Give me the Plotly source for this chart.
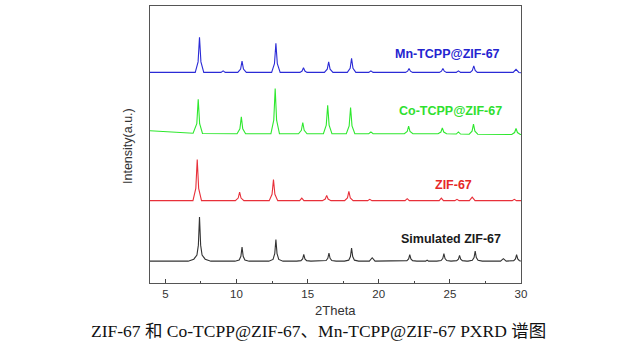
import plotly.graph_objects as go

# ---------------- data (2Theta, relative intensity above each baseline) ----------------
sim_2theta = [3.92,
    6.60, 7.00, 7.22, 7.32, 7.40, 7.48, 7.58, 7.80, 8.20,
    9.89, 10.19, 10.31, 10.39, 10.47, 10.59, 10.89,
    12.27, 12.57, 12.69, 12.77, 12.85, 12.97, 13.27,
    14.23, 14.53, 14.65, 14.73, 14.81, 14.93, 15.23,
    16.00, 16.30, 16.42, 16.50, 16.58, 16.70, 17.00,
    17.59, 17.89, 18.01, 18.09, 18.17, 18.29, 18.59,
    19.34, 19.54, 19.74,
    21.68, 21.98, 22.10, 22.18, 22.26, 22.38, 22.68,
    23.30, 23.40, 23.50,
    24.08, 24.38, 24.50, 24.58, 24.66, 24.78, 25.08,
    25.18, 25.48, 25.60, 25.68, 25.76, 25.88, 26.18,
    26.28, 26.58, 26.70, 26.78, 26.86, 26.98, 27.28,
    28.56, 28.76, 28.96,
    29.29, 29.49, 29.61, 29.69, 29.77, 29.89, 30.00]
sim_intensity = [0,
    0, 2, 6, 16, 44, 16, 6, 2, 0,
    0, 1.1, 4.9, 14, 4.9, 1.1, 0,
    0, 1.7, 7.6, 21.7, 7.6, 1.7, 0,
    0, 0.5, 2.3, 6.7, 2.3, 0.5, 0,
    0, 0.6, 2.8, 8, 2.8, 0.6, 0,
    0, 1.0, 4.6, 13, 4.6, 1.0, 0,
    0, 3.4, 0,
    0, 0.5, 2.2, 6.4, 2.2, 0.5, 0,
    0, 1, 0,
    0, 0.6, 2.6, 7.4, 2.6, 0.6, 0,
    0, 0.5, 2.0, 5.7, 2.0, 0.5, 0,
    0, 0.8, 3.5, 10, 3.5, 0.8, 0,
    0, 2.5, 0,
    0, 0.5, 2.2, 6.4, 2.2, 0.5, 0.1]

zif_2theta = [3.92,
    6.94, 7.14, 7.24, 7.34, 7.54,
    9.92, 10.12, 10.22, 10.32, 10.52,
    12.30, 12.50, 12.60, 12.70, 12.90,
    14.44, 14.59, 14.74,
    16.04, 16.24, 16.34, 16.44, 16.64,
    17.60, 17.80, 17.90, 18.00, 18.20,
    19.22, 19.37, 19.52,
    21.85, 22.00, 22.15,
    24.25, 24.40, 24.55,
    25.35, 25.50, 25.65,
    26.37, 26.57, 26.77,
    29.38, 29.53, 29.68,
    30.00]
zif_intensity = [0,
    0, 12.3, 41, 12.3, 0,
    0, 2.6, 8.6, 2.6, 0,
    0, 6.3, 21, 6.3, 0,
    0, 2.6, 0,
    0, 1.6, 5.3, 1.6, 0,
    0, 2.8, 9.3, 2.8, 0,
    0, 1.3, 0,
    0, 2.0, 0,
    0, 2.6, 0,
    0, 1.3, 0,
    0, 3.6, 0,
    0, 1.3, 0,
    0]

co_2theta = [3.92, 5.50,
    6.95, 7.21, 7.31, 7.41, 7.61,
    10.04, 10.24, 10.34, 10.44, 10.64,
    12.42, 12.62, 12.72, 12.82, 13.02,
    14.36, 14.56, 14.66, 14.76, 14.96,
    16.11, 16.31, 16.41, 16.51, 16.71,
    17.72, 17.92, 18.02, 18.12, 18.32,
    19.30, 19.45, 19.60,
    21.80, 22.00, 22.10, 22.20, 22.40,
    24.17, 24.37, 24.47, 24.57, 24.77,
    25.45, 25.60, 25.75,
    26.36, 26.56, 26.66, 26.76, 26.96,
    29.35, 29.55, 29.65, 29.75, 29.95,
    30.00]
co_intensity = [3, 1.5,
    0.5, 10, 34.5, 10, 0.3,
    0, 5, 16.8, 5, 0,
    0, 13.5, 45.2, 13.5, 0,
    0, 3.4, 11.2, 3.4, 0,
    0, 8.6, 28.5, 8.6, 0,
    0, 7.9, 26.2, 7.9, 0,
    0, 1.8, 0,
    0, 2.2, 7.5, 2.2, 0,
    0, 1.7, 5.8, 1.7, 0,
    -0.3, 1.8, -0.3,
    -0.5, 2.5, 9.5, 2.5, -0.5,
    -0.8, 1.2, 5.2, 1.2, -0.8,
    -0.8]

mn_2theta = [3.92,
    7.10, 7.30, 7.40, 7.50, 7.70,
    8.91, 9.06, 9.21,
    10.09, 10.29, 10.39, 10.49, 10.69,
    12.47, 12.67, 12.77, 12.87, 13.07,
    14.46, 14.61, 14.71, 14.81, 14.96,
    16.18, 16.38, 16.48, 16.58, 16.78,
    17.79, 17.99, 18.09, 18.19, 18.39,
    19.30, 19.45, 19.60,
    21.88, 22.03, 22.13, 22.23, 22.38,
    24.26, 24.41, 24.51, 24.61, 24.76,
    25.45, 25.60, 25.75,
    26.43, 26.58, 26.68, 26.78, 26.93,
    29.45, 29.65, 29.85,
    30.00]
mn_intensity = [0,
    0, 10.5, 35, 10.5, 0,
    0, 1.5, 0,
    0, 3.4, 11.3, 3.4, 0,
    0, 8.7, 29, 8.7, 0,
    0, 1.4, 4.6, 1.4, 0,
    0, 3.2, 10.6, 3.2, 0,
    0, 4.2, 14, 4.2, 0,
    0, 1.6, 0,
    0, 1.2, 4, 1.2, 0,
    0, 1.2, 4, 1.2, 0,
    0, 1.6, 0,
    0, 2, 6.6, 2, 0,
    0, 3, 0,
    -0.3]

series_names = ["Simulated ZIF-67", "ZIF-67", "Co-TCPP@ZIF-67", "Mn-TCPP@ZIF-67"]
series_offsets = [21.8, 82.2, 149.0, 210.2]
line_colors = ["#333333", "#e8303a", "#2ee82e", "#2b2bd6"]
label_colors = ["#1a1a1a", "#e62828", "#2fe02f", "#2424d0"]
label_2theta = [25.05, 25.22, 25.05, 24.84]
label_height = [43.5, 98.2, 171.5, 228.2]

x_ticks = [5, 10, 15, 20, 25, 30]
caption = "ZIF-67 和 Co-TCPP@ZIF-67、Mn-TCPP@ZIF-67 PXRD 谱图"

# ---------------- figure ----------------
xs = [sim_2theta, zif_2theta, co_2theta, mn_2theta]
ys = [sim_intensity, zif_intensity, co_intensity, mn_intensity]

fig = go.Figure()
for name, x, y, off, col in zip(series_names, xs, ys, series_offsets, line_colors):
    fig.add_trace(go.Scatter(x=x, y=[v + off for v in y], mode="lines", name=name,
                             line=dict(color=col, width=1.1), showlegend=False))

for name, lx, ly, col in zip(series_names, label_2theta, label_height, label_colors):
    fig.add_annotation(x=lx, y=ly, xref="x", yref="y", text="<b>%s</b>" % name,
                       showarrow=False, font=dict(family="Arial, Liberation Sans", size=12.5, color=col),
                       xanchor="center", yanchor="middle")

fig.add_annotation(x=0.5, y=-0.0975, xref="paper", yref="paper", text="2Theta", showarrow=False,
                   font=dict(family="Arial, Liberation Sans", size=13, color="#333333"),
                   xanchor="center", yanchor="middle")
fig.add_annotation(x=-0.0593, y=0.4946, xref="paper", yref="paper", text="Intensity(a.u.)",
                   showarrow=False, textangle=-90,
                   font=dict(family="Arial, Liberation Sans", size=12.5, color="#333333"),
                   xanchor="center", yanchor="middle")
fig.add_annotation(x=0.4555, y=-0.173, xref="paper", yref="paper", text=caption, showarrow=False,
                   font=dict(family="Liberation Serif, Noto Sans CJK SC", size=17.5, color="#111111"),
                   xanchor="center", yanchor="middle")

fig.update_xaxes(range=[3.92, 30.0], tickvals=x_ticks, ticks="inside", ticklen=4, tickwidth=1,
                 tickcolor="#444444", showline=True, mirror=True, linecolor="#555555", linewidth=1.3,
                 showgrid=False, zeroline=False,
                 tickfont=dict(family="Arial, Liberation Sans", size=11.5, color="#333333"),
                 minor=dict(ticks="inside", ticklen=2, tick0=2.5, dtick=5, tickcolor="#444444"))
fig.update_yaxes(range=[0, 276.5], showticklabels=False, ticks="", showline=True, mirror=True,
                 linecolor="#555555", linewidth=1.3, showgrid=False, zeroline=False)

fig.update_layout(width=617, height=347, margin=dict(l=150, r=96, t=6, b=64),
                  paper_bgcolor="white", plot_bgcolor="white")

fig.write_html("out.html")
